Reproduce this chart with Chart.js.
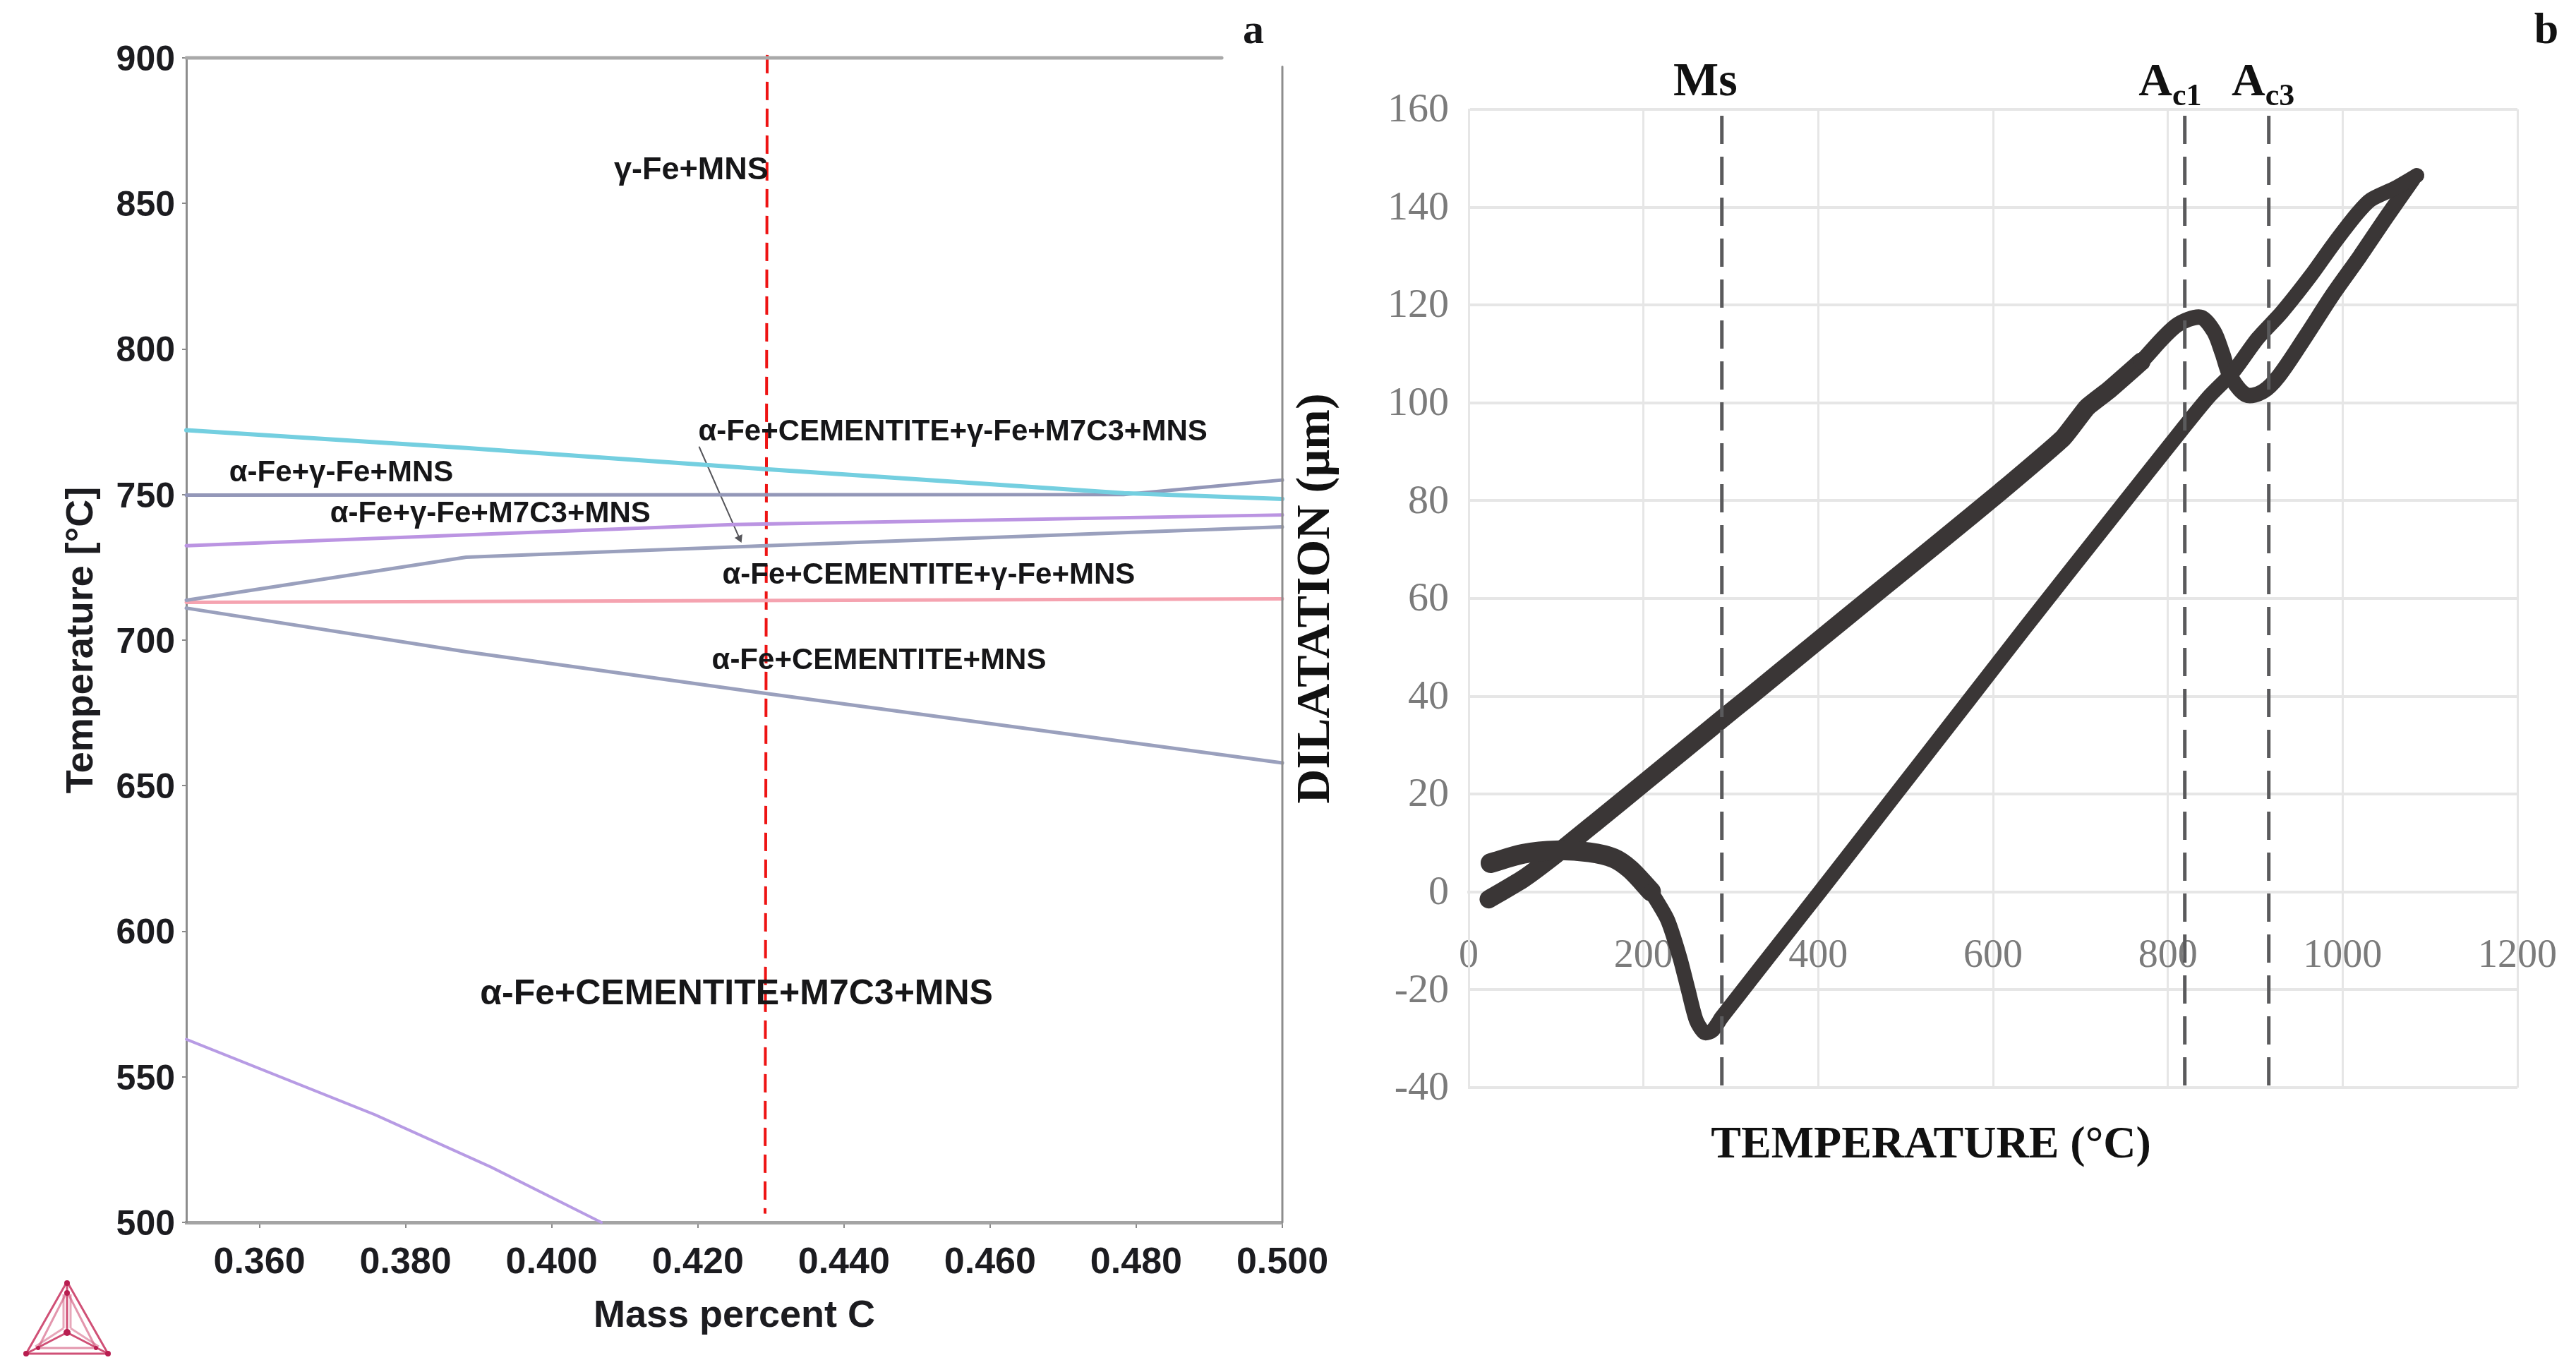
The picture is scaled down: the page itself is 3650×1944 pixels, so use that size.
<!DOCTYPE html>
<html>
<head>
<meta charset="utf-8">
<script src="https://cdn.jsdelivr.net/npm/chart.js@4"></script>
<style>
  html, body { margin: 0; padding: 0; background: #fff; width: 3650px; height: 1944px; overflow: hidden; }
  canvas { position: absolute; top: 0; }
  #chartPhase { left: 0; }
  #chartDilatation { left: 1825px; }
  #logo { position: absolute; left: 30px; top: 1810px; }
</style>
</head>
<body>
<canvas id="chartPhase" width="1900" height="1944"></canvas>
<canvas id="chartDilatation" width="1825" height="1944"></canvas>
<svg id="logo" width="130" height="115" viewBox="0 0 130 115">
  <g fill="none" stroke="#c8325f" stroke-width="3" stroke-linejoin="round" opacity="0.85">
    <path d="M65 6 L7 108 L123 108 Z"/>
    <path d="M65 20 L24 100 L106 100 Z" opacity="0.6"/>
    <path d="M65 6 L65 78 M7 108 L65 78 M123 108 L65 78"/>
    <path d="M60 24 L60 72 M70 24 L70 72 M20 98 L60 72 M110 98 L70 72" opacity="0.5"/>
  </g>
  <g fill="#b81e50">
    <circle cx="65" cy="8" r="4"/><circle cx="65" cy="22" r="4"/><circle cx="65" cy="78" r="5"/>
    <circle cx="7" cy="108" r="4"/><circle cx="123" cy="108" r="4"/><circle cx="24" cy="100" r="3"/><circle cx="106" cy="100" r="3"/>
  </g>
</svg>
<script>
// panel a: phase diagram lines
const massTicks = [0.36, 0.38, 0.40, 0.42, 0.44, 0.46, 0.48, 0.50]
const tempTicks = [500, 550, 600, 650, 700, 750, 800, 850, 900]

const cyanX = [0.35, 0.3883, 0.4293, 0.4783, 0.50]
const cyanY = [772.1, 766, 758.7, 750.5, 748.5]
const flatX = [0.35, 0.4783, 0.50]
const flatY = [749.8, 750, 755]
const purpleX = [0.35, 0.4248, 0.50]
const purpleY = [732.4, 739.7, 743]
const slateX = [0.35, 0.3883, 0.4293, 0.50]
const slateY = [713.7, 728.5, 732.4, 738.9]
const pinkX = [0.35, 0.50]
const pinkY = [713, 714.2]
const lowerX = [0.35, 0.3883, 0.4293, 0.50]
const lowerY = [711, 696, 681.7, 657.8]
const violetX = [0.35, 0.3758, 0.3917, 0.4068]
const violetY = [562.9, 537, 519, 500]
const redX = [0.4295, 0.4292]
const redY = [901, 503]
const arrowX = [0.4202, 0.4257]
const arrowY = [766.3, 735]
const topX = [0.35, 0.4917]
const topY = [900, 900]
const rightX = [0.50, 0.50]
const rightY = [500, 897]

const phaseNames = ['γ-Fe+MNS', 'α-Fe+CEMENTITE+γ-Fe+M7C3+MNS', 'α-Fe+γ-Fe+MNS', 'α-Fe+γ-Fe+M7C3+MNS',
  'α-Fe+CEMENTITE+γ-Fe+MNS', 'α-Fe+CEMENTITE+MNS', 'α-Fe+CEMENTITE+M7C3+MNS']
const phaseNameX = [0.4191, 0.4549, 0.3712, 0.3916, 0.4516, 0.4448, 0.4253]
const phaseNameY = [861.2, 771.3, 757.4, 743.3, 722.2, 692.8, 578.2]
const phaseNameFont = [45, 42, 42, 42, 42, 42, 50]

// panel b: dilatation curve
const dilTempTicks = [0, 200, 400, 600, 800, 1000, 1200]
const dilTicks = [-40, -20, 0, 20, 40, 60, 80, 100, 120, 140, 160]

const heatLowT = [23, 62.5, 100, 147, 204, 288.7, 322, 392.4, 467.8, 543, 609, 680, 707.7, 732.6, 769.6]
const heatLowD = [-1.5, 2.7, 7.7, 14.5, 22.8, 35.2, 40, 50.3, 61.3, 72.2, 81.9, 92.8, 99.1, 102.6, 108.4]
const heatHighT = [769.6, 809.7, 837.5, 852.7, 862.3, 871.4, 890, 908.6, 927, 957.7, 988.9, 1019.9, 1050.6, 1080]
const heatHighD = [108.4, 115.8, 117.5, 114.6, 110.2, 105.5, 101.6, 102.3, 105.5, 113.6, 122.2, 130, 138.1, 145.6]
const coolT = [1085, 1060, 1032, 1016.7, 988.9, 964, 930.3, 902.4, 874.5, 846.7, 815.6, 731.7, 637.5, 571.5, 486.6, 401.8, 354.7, 290, 279, 270, 260.5, 251, 241.6, 227.5, 208.6]
const coolD = [146.5, 143.9, 141.5, 138.7, 132.3, 126.1, 118.5, 113.1, 106.3, 101.2, 94.4, 75.5, 54.2, 39, 19.5, 0, -10.7, -25.5, -28.3, -28.8, -26.3, -19.9, -13.4, -5.7, 0.1]
const coolEndT = [208.6, 185, 166, 138, 100, 62.5, 25]
const coolEndD = [0.1, 4.6, 6.9, 8.1, 8.5, 7.8, 5.9]
const transitionT = [289.7, 819.4, 915.5]
const transitionTop = 158.7
const transitionBottom = -40

function points(xs, ys) {
  return xs.map((x, i) => ({x: x, y: ys[i]}))
}

function line(xs, ys, color, width, extra) {
  return Object.assign({
    data: points(xs, ys),
    showLine: true,
    borderColor: color,
    backgroundColor: color,
    borderWidth: width,
    pointRadius: 0,
    tension: 0,
    clip: false,
    borderCapStyle: 'round',
    borderJoinStyle: 'round'
  }, extra || {})
}

// text that sits inside the plot, placed by scale value
const phaseText = {
  id: 'phaseText',
  afterDatasetsDraw(chart) {
    const ctx = chart.ctx
    const x = chart.scales.x
    const y = chart.scales.y
    ctx.save()
    ctx.fillStyle = '#161618'
    ctx.textAlign = 'center'
    ctx.textBaseline = 'middle'
    phaseNames.forEach((name, i) => {
      ctx.font = 'bold ' + phaseNameFont[i] + 'px "Liberation Sans"'
      ctx.fillText(name, x.getPixelForValue(phaseNameX[i]), y.getPixelForValue(phaseNameY[i]))
    })
    ctx.font = 'bold 60px "Liberation Serif"'
    ctx.fillText('a', 1776, 45)
    ctx.restore()
  }
}

const dilatationText = {
  id: 'dilatationText',
  afterDatasetsDraw(chart) {
    const ctx = chart.ctx
    const x = chart.scales.x
    const y = chart.scales.y
    const base = y.getPixelForValue(162.9)
    ctx.save()
    ctx.fillStyle = '#111'
    ctx.textAlign = 'center'
    ctx.textBaseline = 'alphabetic'
    ctx.font = 'bold 68px "Liberation Serif"'
    ctx.fillText('Ms', x.getPixelForValue(270.8), base)
    ctx.textAlign = 'left'
    ;[[766.6, 'c1'], [873, 'c3']].forEach(a => {
      const px = x.getPixelForValue(a[0])
      ctx.font = 'bold 66px "Liberation Serif"'
      ctx.fillText('A', px, base)
      const w = ctx.measureText('A').width
      ctx.font = 'bold 44px "Liberation Serif"'
      ctx.fillText(a[1], px + w, base + 14)
    })
    ctx.textAlign = 'center'
    ctx.textBaseline = 'middle'
    ctx.font = 'bold 64px "Liberation Serif"'
    ctx.fillText('TEMPERATURE (°C)', 911, 1623)
    ctx.font = 'bold 62px "Liberation Serif"'
    ctx.fillText('b', 1783, 45)
    ctx.restore()
  }
}

new Chart(document.getElementById('chartPhase'), {
  type: 'scatter',
  plugins: [phaseText],
  data: {
    datasets: [
      line(topX, topY, '#a9a9a9', 5),
      line(rightX, rightY, '#8d8d8d', 3),
      line(cyanX, cyanY, '#74cfe0', 6),
      line(flatX, flatY, '#9397b8', 5),
      line(purpleX, purpleY, '#bb94e2', 5),
      line(slateX, slateY, '#9aa0bd', 5),
      line(pinkX, pinkY, '#f5a3b0', 5),
      line(lowerX, lowerY, '#9aa0bd', 5),
      line(violetX, violetY, '#b79be4', 4),
      line(arrowX, arrowY, '#55555a', 2, {
        pointRadius: [0, 7],
        pointStyle: 'triangle',
        pointRotation: 156,
        pointBackgroundColor: '#55555a',
        pointBorderWidth: 0
      }),
      line(redX, redY, '#ee1313', 4, {borderDash: [26, 12], borderCapStyle: 'butt'})
    ]
  },
  options: {
    responsive: false,
    animation: false,
    devicePixelRatio: 1,
    layout: {padding: {left: 0, top: 82, right: 83, bottom: 0}},
    plugins: {legend: {display: false}, tooltip: {enabled: false}},
    scales: {
      x: {
        type: 'linear',
        min: 0.35,
        max: 0.5,
        afterBuildTicks: axis => { axis.ticks = massTicks.map(v => ({value: v})) },
        afterFit: axis => { axis.height = 212; axis.paddingLeft = 0; axis.paddingRight = 0 },
        grid: {drawOnChartArea: false, color: '#8a8a8a', lineWidth: 2, tickLength: 8},
        border: {color: '#a4a4a4', width: 5},
        ticks: {
          color: '#1c1c20',
          font: {family: '"Liberation Sans"', size: 52, weight: 'bold'},
          padding: 18,
          maxRotation: 0,
          callback: v => v.toFixed(3)
        },
        title: {
          display: true,
          text: 'Mass percent C',
          color: '#1c1c20',
          font: {family: '"Liberation Sans"', size: 54, weight: 'bold', lineHeight: 1},
          padding: {top: 0, bottom: 52}
        }
      },
      y: {
        min: 500,
        max: 900,
        afterBuildTicks: axis => { axis.ticks = tempTicks.map(v => ({value: v})) },
        afterFit: axis => { axis.width = 264; axis.paddingTop = 0; axis.paddingBottom = 0 },
        grid: {drawOnChartArea: false, color: '#8a8a8a', lineWidth: 2, tickLength: 6},
        border: {color: '#8d8d8d', width: 3},
        ticks: {
          color: '#1c1c20',
          font: {family: '"Liberation Sans"', size: 50, weight: 'bold'},
          padding: 10,
          labelOffset: 4
        },
        title: {
          display: true,
          text: 'Temperature [°C]',
          color: '#1c1c20',
          font: {family: '"Liberation Sans"', size: 54, weight: 'bold', lineHeight: 1},
          padding: {top: 89, bottom: 0}
        }
      }
    }
  }
})

new Chart(document.getElementById('chartDilatation'), {
  type: 'scatter',
  plugins: [dilatationText],
  data: {
    datasets: transitionT.map(t => line([t, t], [transitionTop, transitionBottom], '#5a5a5c', 5, {
      borderDash: [40, 18],
      borderCapStyle: 'butt'
    })).concat([
      line(coolT, coolD, '#3a3636', 21, {tension: 0.25}),
      line(coolEndT, coolEndD, '#3a3636', 28, {tension: 0.3}),
      line(heatHighT, heatHighD, '#3a3636', 22, {tension: 0.3}),
      line(heatLowT, heatLowD, '#3a3636', 26, {tension: 0.15})
    ])
  },
  options: {
    responsive: false,
    animation: false,
    devicePixelRatio: 1,
    layout: {padding: {left: 0, top: 155, right: 83, bottom: 403}},
    plugins: {legend: {display: false}, tooltip: {enabled: false}},
    scales: {
      x: {
        type: 'linear',
        min: 0,
        max: 1200,
        position: {y: 0},
        afterBuildTicks: axis => { axis.ticks = dilTempTicks.map(v => ({value: v})) },
        afterFit: axis => { axis.paddingLeft = 0; axis.paddingRight = 0 },
        grid: {color: '#e6e6e6', lineWidth: 3, drawTicks: false},
        border: {color: '#e6e6e6', width: 4},
        ticks: {
          color: '#7b7b7b',
          font: {family: '"Liberation Serif"', size: 56},
          padding: 58,
          maxRotation: 0,
          callback: v => String(v)
        }
      },
      y: {
        min: -40,
        max: 160,
        afterBuildTicks: axis => { axis.ticks = dilTicks.map(v => ({value: v})) },
        afterFit: axis => { axis.width = 256; axis.paddingTop = 0; axis.paddingBottom = 0 },
        grid: {color: '#e6e6e6', lineWidth: 4, drawTicks: false},
        border: {color: '#e6e6e6', width: 3},
        ticks: {
          color: '#7b7b7b',
          font: {family: '"Liberation Serif"', size: 58},
          padding: 28,
          labelOffset: 2
        },
        title: {
          display: true,
          text: 'DILATATION (µm)',
          color: '#111',
          font: {family: '"Liberation Serif"', size: 68, weight: 'bold', lineHeight: 1},
          padding: {top: 6, bottom: 0}
        }
      }
    }
  }
})
</script>
</body>
</html>
